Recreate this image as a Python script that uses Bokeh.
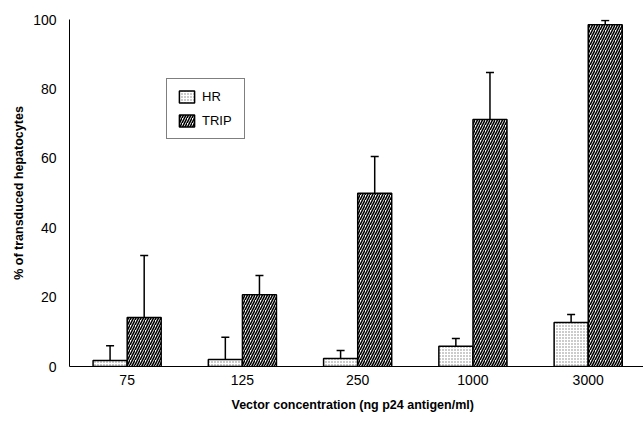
from bokeh.plotting import figure
from bokeh.models import Range1d, FixedTicker, ColumnDataSource, Whisker, TeeHead, Title
from bokeh.embed import file_html
from bokeh.resources import INLINE
import numpy as np

categories = ["75", "125", "250", "1000", "3000"]
hr = [1.7, 2.0, 2.3, 5.8, 12.7]
hr_sd = [4.3, 6.4, 2.3, 2.3, 2.3]
trip = [14.1, 20.7, 49.9, 71.2, 98.5]
trip_sd = [17.9, 5.5, 10.6, 13.5, 1.2]
y_ticks = [0, 20, 40, 60, 80, 100]
x_title = "Vector concentration (ng p24 antigen/ml)"
y_title = "% of transduced hepatocytes"

FONT = "Liberation Sans"
bw = 0.295
off = 0.148
centers = np.arange(len(categories)) + 0.5

p = figure(width=643, height=432, output_backend="svg", toolbar_location=None,
           x_range=Range1d(0, 4.98), y_range=Range1d(0, 100),
           min_border_left=69, min_border_right=0, min_border_top=19, min_border_bottom=66)
p.outline_line_color = None
p.xgrid.visible = False
p.ygrid.visible = False
p.background_fill_color = "white"

src_hr = ColumnDataSource(dict(x=centers - off, top=hr, up=[a + b for a, b in zip(hr, hr_sd)]))
src_tr = ColumnDataSource(dict(x=centers + off, top=trip, up=[a + b for a, b in zip(trip, trip_sd)]))

for src in (src_hr, src_tr):
    w = Whisker(source=src, base="x", lower="top", upper="up", dimension="height",
                line_color="black", line_width=1.5,
                upper_head=TeeHead(size=8, line_color="black", line_width=1.5),
                lower_head=None, level="underlay")
    p.add_layout(w)

p.vbar(x="x", top="top", width=bw, source=src_hr, fill_color="white", line_color="black",
       line_width=1.5, hatch_pattern="dot", hatch_scale=3, hatch_color="black",
       hatch_weight=1, hatch_alpha=0.5, legend_label="HR")
p.vbar(x="x", top="top", width=bw, source=src_tr, fill_color="white", line_color="black",
       line_width=1.5, hatch_pattern="right_diagonal_line", hatch_scale=5, hatch_color="black",
       hatch_weight=1.6, legend_label="TRIP")

# axes
p.yaxis.ticker = FixedTicker(ticks=y_ticks)
p.yaxis.minor_tick_line_color = None
p.yaxis.major_tick_out = 6
p.yaxis.major_tick_in = 0
p.yaxis.major_label_standoff = 7
p.yaxis.axis_label = y_title
p.yaxis.axis_label_standoff = 4

p.xaxis.ticker = FixedTicker(ticks=list(centers))
p.xaxis.major_label_overrides = {float(c): lab for c, lab in zip(centers, categories)}
p.xaxis.minor_tick_line_color = None
p.xaxis.major_tick_out = 0
p.xaxis.major_tick_in = 0
p.xaxis.major_label_standoff = 8

for ax in (p.xaxis, p.yaxis):
    ax.axis_line_color = "black"
    ax.axis_line_width = 1
    ax.major_tick_line_color = "black" if ax is p.yaxis else None
    ax.major_label_text_font = FONT
    ax.major_label_text_font_size = "14px"
    ax.major_label_text_color = "black"
    ax.axis_label_text_font = FONT
    ax.axis_label_text_font_style = "bold"
    ax.axis_label_text_font_size = "12.5px"
    ax.axis_label_text_color = "black"

xt = Title(text=x_title, align="left", offset=162, standoff=17,
           text_font=FONT, text_font_style="bold", text_font_size="12.5px",
           text_color="black")
p.add_layout(xt, "below")

lg = p.legend[0]
lg.location = (97, 227)
lg.border_line_color = "black"
lg.border_line_width = 1
lg.background_fill_color = "white"
lg.background_fill_alpha = 1
lg.glyph_width = 19
lg.glyph_height = 15
lg.label_height = 15
lg.label_width = 32
lg.label_standoff = 6
lg.spacing = 9
lg.padding = 10
lg.margin = 0
lg.label_text_font = FONT
lg.label_text_font_size = "13px"
lg.label_text_color = "black"

open("out.html", "w").write(file_html(p, INLINE))
